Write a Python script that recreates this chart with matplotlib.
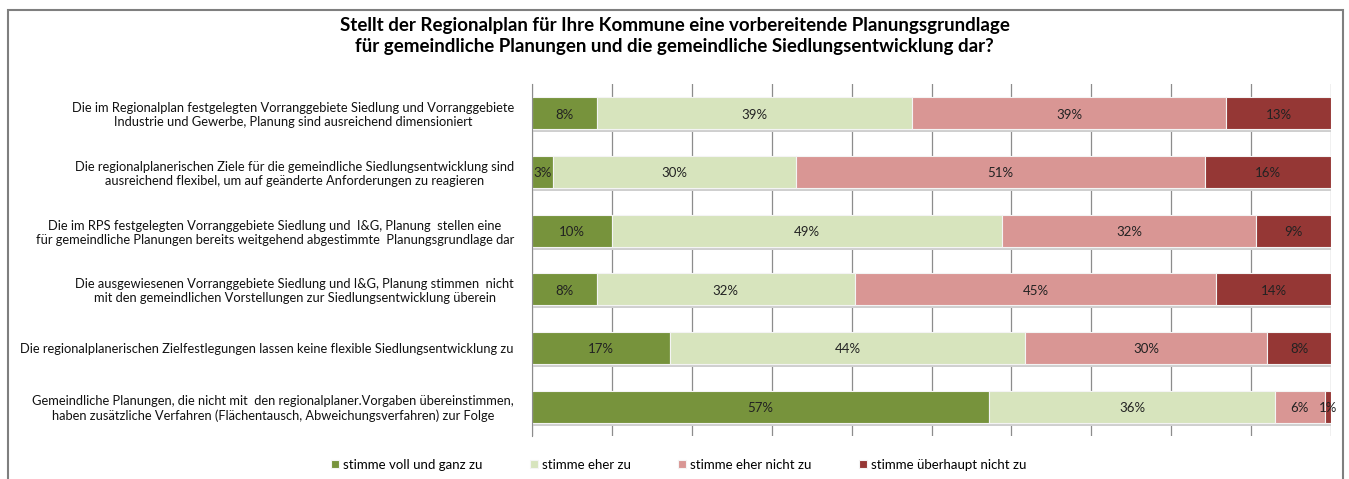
import numpy as np
import matplotlib
matplotlib.use('Agg')
import matplotlib.pyplot as plt
from matplotlib.patches import Rectangle

plt.rcParams['font.family'] = ['Lato', 'DejaVu Sans']

# statements, top to bottom
categories = [
    'Die im Regionalplan festgelegten Vorranggebiete Siedlung und Vorranggebiete\nIndustrie und Gewerbe, Planung sind ausreichend dimensioniert',
    'Die regionalplanerischen Ziele für die gemeindliche Siedlungsentwicklung sind\nausreichend flexibel, um auf geänderte Anforderungen zu reagieren',
    'Die im RPS festgelegten Vorranggebiete Siedlung und  I&G, Planung  stellen eine\nfür gemeindliche Planungen bereits weitgehend abgestimmte  Planungsgrundlage dar',
    'Die ausgewiesenen Vorranggebiete Siedlung und I&G, Planung stimmen  nicht\nmit den gemeindlichen Vorstellungen zur Siedlungsentwicklung überein',
    'Die regionalplanerischen Zielfestlegungen lassen keine flexible Siedlungsentwicklung zu',
    'Gemeindliche Planungen, die nicht mit  den regionalplaner.Vorgaben übereinstimmen,\nhaben zusätzliche Verfahren (Flächentausch, Abweichungsverfahren) zur Folge',
]

# shares in percent (100% stacked)
voll_zu = [8.1, 2.6, 10.0, 8.1, 17.3, 57.2]
eher_zu = [39.4, 30.4, 48.8, 32.3, 44.4, 35.8]
eher_nicht = [39.4, 51.2, 31.8, 45.2, 30.3, 6.2]
gar_nicht = [13.1, 15.8, 9.4, 14.4, 8.0, 0.8]

series_names = ['stimme voll und ganz zu', 'stimme eher zu',
                'stimme eher nicht zu', 'stimme überhaupt nicht zu']
colors = ['#77933C', '#D7E4BD', '#D99694', '#953735']

title = ('Stellt der Regionalplan für Ihre Kommune eine vorbereitende Planungsgrundlage\n'
         'für gemeindliche Planungen und die gemeindliche Siedlungsentwicklung dar?')

fig = plt.figure(figsize=(13.49, 4.79), dpi=100)
ax = fig.add_axes([0.3944, 0.0898, 0.5923, 0.7348])

y = np.arange(len(categories))
h = 0.55
data = [voll_zu, eher_zu, eher_nicht, gar_nicht]

# bar shadow
totals = np.sum(data, axis=0)
ax.barh(y + 0.05, totals, height=h, color='#cfcfcf', zorder=1)

left = np.zeros(len(categories))
for vals, name, c in zip(data, series_names, colors):
    vals = np.array(vals)
    bars = ax.barh(y, vals, left=left, height=h, color=c, edgecolor='#f4f4f4',
                   linewidth=0.8, label=name, zorder=2)
    for b, v, l in zip(bars, vals, left):
        ax.text(l + v / 2, b.get_y() + b.get_height() / 2 + 0.02, f'{round(v)}%',
                ha='center', va='center', fontsize=9.5, color='#222222', zorder=3)
    left += vals

ax.set_xlim(0, 100)
ax.set_ylim(len(categories) - 0.5, -0.5)
ax.set_xticks(np.arange(0, 101, 10))
ax.set_xticklabels([])
ax.tick_params(axis='x', length=0)
ax.grid(axis='x', color='#8c8c8c', linewidth=0.9, zorder=0)
ax.set_axisbelow(True)
ax.set_yticks(y)
ax.set_yticklabels(categories, fontsize=9.3, multialignment='center', color='#111111')
ax.tick_params(axis='y', length=0, pad=13)
for s in ['top', 'right', 'bottom']:
    ax.spines[s].set_visible(False)
ax.spines['left'].set_color('#8c8c8c')

fig.text(0.5, 0.965, title, ha='center', va='top', fontsize=13.5, fontweight='bold',
         linespacing=1.3)

ax.legend(loc='center', bbox_to_anchor=(0.503, 0.03), bbox_transform=fig.transFigure,
          ncol=4, frameon=False, fontsize=9.5, handlelength=0.6, handleheight=0.6,
          handletextpad=0.3, columnspacing=3.6)

# chart area border
fig.add_artist(Rectangle((8 / 1349, -0.1), 1335 / 1349, 1 - 10 / 479 + 0.1,
                         transform=fig.transFigure, fill=False,
                         edgecolor='#7f7f7f', linewidth=1.5))

fig.savefig('out.png', dpi=100)
